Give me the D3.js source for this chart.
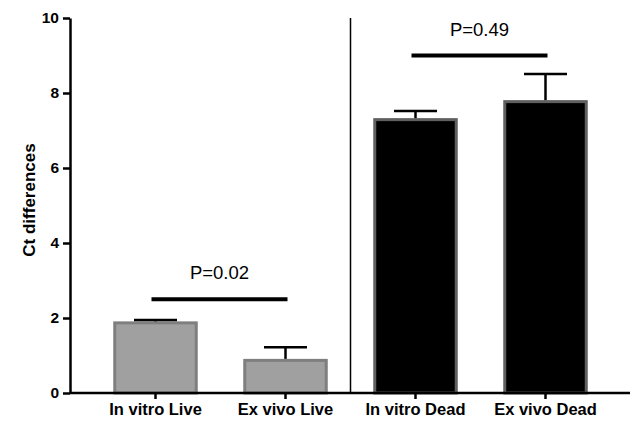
<!DOCTYPE html>
<html>
<head>
<meta charset="utf-8">
<script src="https://cdn.jsdelivr.net/npm/d3@7"></script>
<style>
  body { margin: 0; background: #fff; }
  svg { display: block; }
</style>
</head>
<body>
<div id="chart"></div>
<script>
const categories = ["In vitro Live", "Ex vivo Live", "In vitro Dead", "Ex vivo Dead"];
const means = [1.87, 0.87, 7.29, 7.77];
const errors = [0.08, 0.35, 0.23, 0.74];
const fills = ["#a0a0a0", "#a0a0a0", "#000000", "#000000"];
const strokes = ["#7f7f7f", "#7f7f7f", "#606060", "#606060"];
const yTicks = [0, 2, 4, 6, 8, 10];

// significance brackets: [from category, to category, level, label]
const compFrom = ["In vitro Live", "In vitro Dead"];
const compTo = ["Ex vivo Live", "Ex vivo Dead"];
const compLevel = [2.5, 9.0];
const compLabel = ["P=0.02", "P=0.49"];

const width = 635, height = 421;
const font = "Arial, 'Liberation Sans', sans-serif";

const svg = d3.select("#chart").append("svg")
    .attr("width", width)
    .attr("height", height)
    .attr("font-family", font);

const y = d3.scaleLinear().domain([0, 10]).range([393, 18]);
const x = d3.scaleBand()
    .domain(categories)
    .range([90.5, 610.5])
    .paddingInner(0.35)
    .paddingOuter(0.175);

const xLeft = 70, xRight = 630;

// bars
svg.append("g")
  .selectAll("rect")
  .data(categories)
  .join("rect")
    .attr("x", d => x(d) + 1.5)
    .attr("width", x.bandwidth() - 3)
    .attr("y", (d, i) => y(means[i]))
    .attr("height", (d, i) => y(0) - y(means[i]))
    .attr("fill", (d, i) => fills[i])
    .attr("stroke", (d, i) => strokes[i])
    .attr("stroke-width", 3);

// error bars (upper only)
const err = svg.append("g")
  .selectAll("g")
  .data(categories)
  .join("g")
    .attr("stroke", "#000")
    .attr("stroke-width", 2.5);

err.append("line")
    .attr("x1", d => x(d) + x.bandwidth() / 2)
    .attr("x2", d => x(d) + x.bandwidth() / 2)
    .attr("y1", (d, i) => y(means[i]) - 1.5)
    .attr("y2", (d, i) => y(means[i] + errors[i]));

err.append("line")
    .attr("x1", d => x(d) + x.bandwidth() / 2 - 21.5)
    .attr("x2", d => x(d) + x.bandwidth() / 2 + 21.5)
    .attr("y1", (d, i) => y(means[i] + errors[i]))
    .attr("y2", (d, i) => y(means[i] + errors[i]));

// divider between live and dead
const divX = (x(categories[1]) + x(categories[2]) + x.bandwidth()) / 2;
svg.append("line")
    .attr("x1", divX).attr("x2", divX)
    .attr("y1", y(10)).attr("y2", y(0))
    .attr("stroke", "#000")
    .attr("stroke-width", 1.5);

// y axis
const yAxis = svg.append("g")
    .attr("transform", `translate(${xLeft},0)`)
    .call(d3.axisLeft(y).tickValues(yTicks).tickSize(7).tickPadding(4).tickSizeOuter(0));
yAxis.select(".domain").attr("stroke-width", 2.5);
yAxis.selectAll(".tick line").attr("stroke-width", 2.5);
yAxis.selectAll("text")
    .attr("font-family", font)
    .attr("font-size", 15.5)
    .attr("font-weight", "bold")
    .attr("fill", "#000");

// x axis
const xAxis = svg.append("g")
    .attr("transform", `translate(0,${y(0)})`)
    .call(d3.axisBottom(x).tickSize(6).tickPadding(4).tickSizeOuter(0));
xAxis.select(".domain")
    .attr("d", `M${xLeft},0H${xRight}`)
    .attr("stroke-width", 2.5);
xAxis.selectAll(".tick line").attr("stroke-width", 2.5);
xAxis.selectAll("text")
    .attr("font-family", font)
    .attr("font-size", 16.5)
    .attr("font-weight", "bold")
    .attr("fill", "#000");

// y label
svg.append("text")
    .attr("transform", `translate(35,200) rotate(-90)`)
    .attr("text-anchor", "middle")
    .attr("font-size", 17)
    .attr("font-weight", "bold")
    .text("Ct differences");

// significance lines
compFrom.forEach((c, i) => {
  const x1 = x(c) + x.bandwidth() / 2 - 4;
  const x2 = x(compTo[i]) + x.bandwidth() / 2 + 2;
  svg.append("line")
      .attr("x1", x1).attr("x2", x2)
      .attr("y1", y(compLevel[i])).attr("y2", y(compLevel[i]))
      .attr("stroke", "#000")
      .attr("stroke-width", 4);
  svg.append("text")
      .attr("x", (x1 + x2) / 2)
      .attr("y", y(compLevel[i]) - 20)
      .attr("text-anchor", "middle")
      .attr("font-size", 18.5)
      .text(compLabel[i]);
});
</script>
</body>
</html>
